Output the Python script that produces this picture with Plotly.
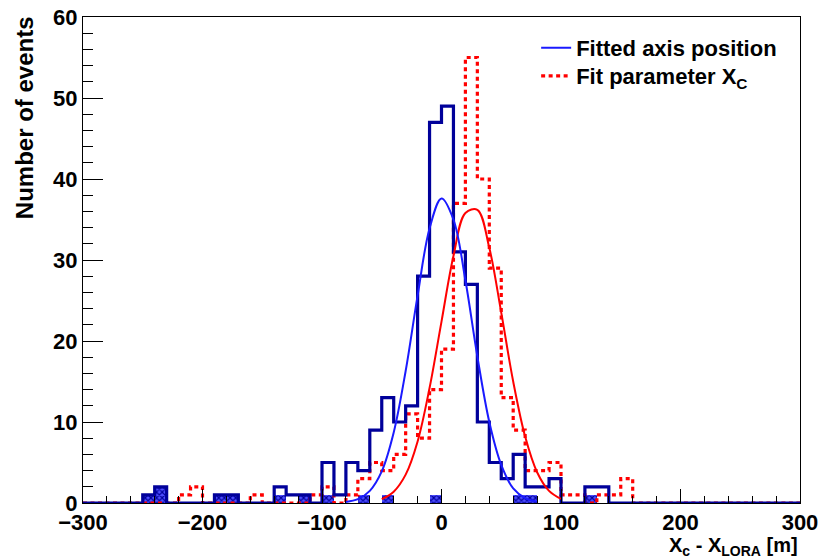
import numpy as np
import plotly.graph_objects as go

# ---------------- data ----------------
bin_edges = list(range(-300, 301, 10))  # 60 bins of 10 m

# Fitted axis position (blue solid histogram), one value per bin from -300 to 300
blue_counts = [0, 0, 0, 0, 0,            # -300 .. -250
               1, 2, 0, 0, 0,            # -250 .. -200
               0, 1, 1, 0, 0,            # -200 .. -150
               0, 2, 1, 1, 0,            # -150 .. -100
               5, 1, 5, 4, 9,            # -100 .. -50
               13, 10, 12, 28, 47,       # -50 .. 0
               49, 31, 27, 10, 5,        # 0 .. 50
               3, 6, 2, 2, 3,            # 50 .. 100
               0, 0, 2, 2, 0,            # 100 .. 150
               0, 0, 0, 0, 0,            # 150 .. 200
               0, 0, 0, 0, 0,            # 200 .. 250
               0, 0, 0, 0, 0]            # 250 .. 300

# Fit parameter X_C (red dotted histogram)
red_counts = [0, 0, 0, 0, 0,             # -300 .. -250
              0, 0, 0, 1, 2,             # -250 .. -200
              0, 0, 0, 0, 1,             # -200 .. -150
              0, 0, 0, 0, 1,             # -150 .. -100
              2, 0, 1, 3, 5,             # -100 .. -50
              4, 6, 11, 8, 14,           # -50 .. 0
              19, 37, 55, 40, 29,        # 0 .. 50
              13, 9, 4, 4, 5,            # 50 .. 100
              1, 1, 0, 1, 1,             # 100 .. 150
              3, 0, 0, 0, 0,             # 150 .. 200
              0, 0, 0, 0, 0,             # 200 .. 250
              0, 0, 0, 0, 0]             # 250 .. 300

# Hatched (filled) blue histogram
hatch_counts = [0, 0, 0, 0, 0,
                1, 2, 0, 0, 0,
                0, 1, 1, 0, 0,
                0, 1, 0, 1, 0,
                1, 0, 0, 1, 0,
                1, 0, 0, 0, 1,
                0, 0, 0, 0, 0,
                0, 1, 1, 0, 0,
                0, 0, 1, 0, 0,
                0, 0, 0, 0, 0,
                0, 0, 0, 0, 0,
                0, 0, 0, 0, 0]

# Fit curves, values
blue_fit_x = [-80, -70, -60, -50, -40, -30, -20, -10, 0, 10, 20, 30, 40, 50, 60, 70, 80]
blue_fit_y = [0.13, 0.47, 1.5, 3.9, 8.7, 16.3, 25.6, 33.9, 37.6, 35.0, 27.5, 18.1, 10.0, 4.7, 1.8, 0.6, 0.17]
red_fit_x = [-50, -40, -30, -20, -10, 0, 10, 20, 30, 40, 50, 60, 70, 80, 90, 100]
red_fit_y = [0.48, 1.4, 3.5, 7.6, 14.2, 22.4, 30.5, 35.8, 36.2, 31.5, 23.5, 15.0, 8.2, 3.8, 1.5, 0.5]

x_ticks = [-300, -200, -100, 0, 100, 200, 300]
y_ticks = [0, 10, 20, 30, 40, 50, 60]

legend_blue = "Fitted axis position"
legend_red = "Fit parameter X<sub>C</sub>"
x_title = "X<sub>c</sub> - X<sub>LORA</sub> [m]"
y_title = "Number of events"

# ---------------- figure ----------------
FONT = "Liberation Sans, Arial, Helvetica, sans-serif"
DARKBLUE = "#00009a"
BLUE = "#1a1aff"
RED = "#ff0000"

centers = [(a + b) / 2 for a, b in zip(bin_edges[:-1], bin_edges[1:])]

fig = go.Figure()

# hatched histogram
fig.add_trace(go.Bar(
    x=centers, y=hatch_counts, width=10,
    marker=dict(color="#2a2af0", line=dict(width=0),
                pattern=dict(shape="x", fgcolor="#00009a", bgcolor="#4d4dff", size=4, solidity=0.5)),
    showlegend=False, hoverinfo="skip"))

# red dotted histogram
fig.add_trace(go.Scatter(
    x=bin_edges, y=red_counts + [red_counts[-1]], mode="lines", line_shape="hv",
    line=dict(color=RED, width=3.2, dash="4px,3.5px"),
    name=legend_red, showlegend=True, legend="legend2"))

# blue solid histogram
fig.add_trace(go.Scatter(
    x=bin_edges, y=blue_counts + [blue_counts[-1]], mode="lines", line_shape="hv",
    line=dict(color=DARKBLUE, width=3.2),
    showlegend=False))

# fit curves
fig.add_trace(go.Scatter(
    x=red_fit_x, y=red_fit_y, mode="lines", line_shape="spline",
    line=dict(color=RED, width=2), showlegend=False))
fig.add_trace(go.Scatter(
    x=blue_fit_x, y=blue_fit_y, mode="lines", line_shape="spline",
    line=dict(color=BLUE, width=2), name=legend_blue, showlegend=True, legend="legend"))

tickfont = dict(family=FONT, size=22, color="black", weight="bold")
legfont = dict(family=FONT, size=22, color="black", weight="bold")

fig.update_layout(
    template="none",
    width=821, height=558,
    margin=dict(l=83, r=21, t=17, b=55),
    plot_bgcolor="white", paper_bgcolor="white",
    font=dict(family=FONT, color="black"),
    barmode="overlay", bargap=0,
    legend=dict(x=0.632, y=1.0 - (48 - 17) / 486, xanchor="left", yanchor="middle",
                bgcolor="rgba(0,0,0,0)", borderwidth=0, font=legfont, itemwidth=30),
    legend2=dict(x=0.632, y=1.0 - (76 - 17) / 486, xanchor="left", yanchor="middle",
                 bgcolor="rgba(0,0,0,0)", borderwidth=0, font=legfont, itemwidth=30),
    xaxis=dict(range=[-300, 300], tickmode="array", tickvals=x_ticks, automargin=False,
               ticks="inside", ticklen=14, tickwidth=1, tickcolor="black",
               minor=dict(dtick=20, tick0=-300, ticks="inside", ticklen=7, tickcolor="black", tickwidth=1, showgrid=False),
               showline=True, linecolor="black", linewidth=1, mirror=True,
               showgrid=False, zeroline=False, tickfont=tickfont),
    yaxis=dict(range=[0, 60], tickmode="array", tickvals=y_ticks, automargin=False,
               ticks="inside", ticklen=20, tickwidth=1, tickcolor="black",
               minor=dict(dtick=2, tick0=0, ticks="inside", ticklen=10, tickcolor="black", tickwidth=1, showgrid=False),
               showline=True, linecolor="black", linewidth=1, mirror=True,
               showgrid=False, zeroline=False, tickfont=tickfont),
    annotations=[
        dict(text=y_title, xref="paper", yref="paper", x=-0.082, y=1.0 - (118 - 17) / 486,
             xanchor="center", yanchor="middle", textangle=-90, showarrow=False,
             font=dict(family=FONT, size=24, color="black", weight="bold")),
        dict(text=x_title, xref="paper", yref="paper", x=1.0, y=-0.06,
             xanchor="right", yanchor="top", showarrow=False,
             font=dict(family=FONT, size=20, color="black", weight="bold")),
    ],
)

fig.write_html("out.html")
